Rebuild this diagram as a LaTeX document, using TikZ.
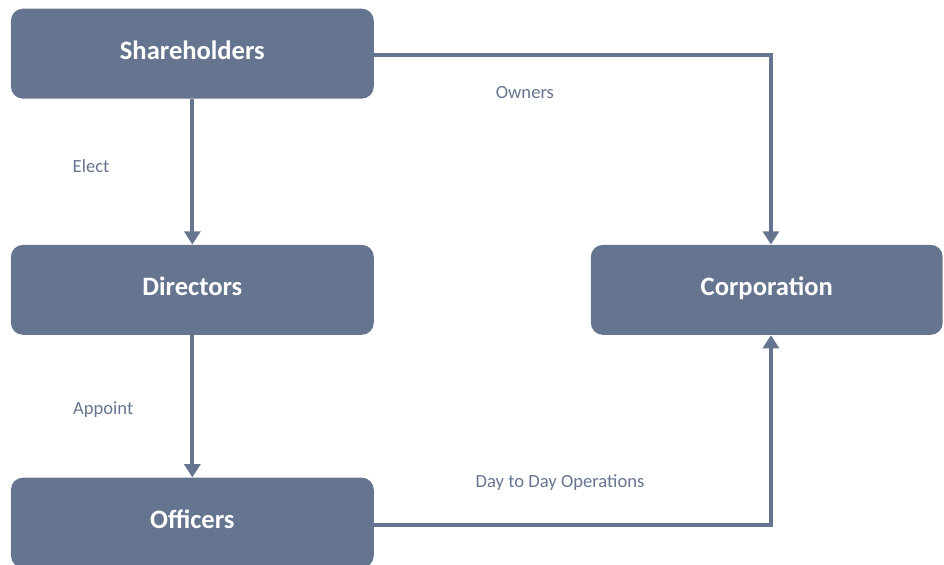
\documentclass[tikz,border=0pt]{standalone}
\usepackage{fontspec}
\setmainfont{Carlito}
\usetikzlibrary{arrows.meta,positioning}

\definecolor{slate}{RGB}{101,117,143}

\begin{document}
\begin{tikzpicture}[
  box/.style={draw=none, fill=slate, rectangle, rounded corners=9pt,
    minimum width=9.6cm, minimum height=2.38cm, inner sep=0pt, align=center,
    text height=13pt, text depth=4.7pt,
    text=white, font=\fontsize{20}{24}\selectfont\bfseries},
  note/.style={text=slate, font=\fontsize{14}{17}\selectfont, align=center},
  ar/.style={-{Triangle[length=10pt,width=12pt]}, line width=3pt, draw=slate},
]
\useasboundingbox (0,0) rectangle (24.98,-14.95);

%==== Kolom kiri: jenjang organisasi ====
\node[box] (sh)  at (5.09, -1.42)  {Shareholders};
\node[box] (dir) at (5.09, -7.67)  {Directors};
\node[box] (off) at (5.09, -13.83) {Officers};
\draw[ar] (sh.south)  -- (dir.north);
\draw[ar] (dir.south) -- (off.north);
\node[note] at (2.41, -4.39)  {Elect};
\node[note] at (2.73, -10.85) {Appoint};

%==== Kolom kanan: perusahaan ====
\node[box, minimum width=9.31cm] (corp) at (20.29, -7.67) {Corporation};
\draw[ar] ([yshift=-0.04cm]sh.east) -| ([xshift=0.11cm]corp.north);
\draw[ar] ([yshift=-0.05cm]off.east) -| ([xshift=0.11cm]corp.south);
\node[note] at (13.89, -2.46)  {Owners};
\node[note] at (14.82, -12.78) {Day to Day Operations};

\end{tikzpicture}
\end{document}
